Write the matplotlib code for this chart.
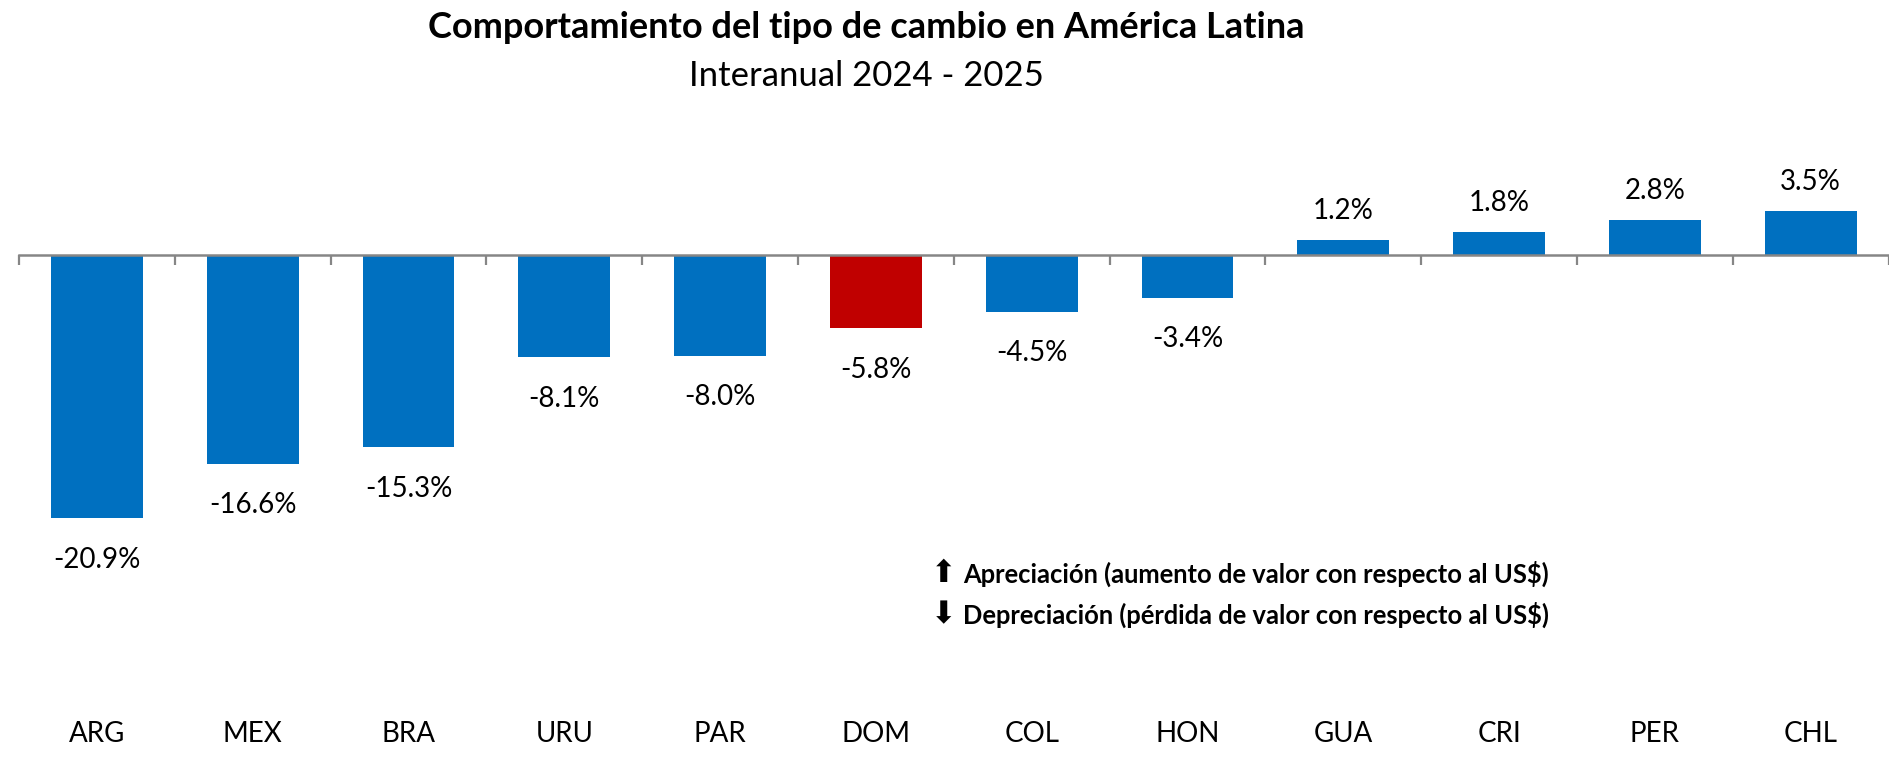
import matplotlib.pyplot as plt
import matplotlib.transforms as mtransforms
import numpy as np

# values (year-on-year change vs US$, %)
countries = ["ARG", "MEX", "BRA", "URU", "PAR", "DOM", "COL", "HON", "GUA", "CRI", "PER", "CHL"]
changes = [-20.9, -16.6, -15.3, -8.1, -8.0, -5.8, -4.5, -3.4, 1.2, 1.8, 2.8, 3.5]
highlight = "DOM"

BLUE = "#0070C0"
RED = "#C00000"
AXIS_GRAY = "#868686"

plt.rcParams["font.family"] = ["Lato", "DejaVu Sans"]

W, H = 1889, 782
fig = plt.figure(figsize=(W / 100, H / 100), dpi=100, facecolor="white")


def px(x, y):
    """Pixel position (from top-left) -> figure fraction."""
    return x / W, 1 - y / H


# plot area: zero line at y=255 px, ~12.6 px per percentage point
ymin, ymax = -27.0, 6.0
top_px, bot_px = 255 - ymax * 12.58, 255 - ymin * 12.58
left_px, right_px = 19, 19 + 12 * 155.8
ax = fig.add_axes([left_px / W, 1 - bot_px / H,
                   (right_px - left_px) / W, (bot_px - top_px) / H])

x = np.arange(len(countries))
colors = [RED if c == highlight else BLUE for c in countries]
ax.bar(x, changes, width=0.59, color=colors, zorder=2)

ax.set_xlim(-0.5, len(countries) - 0.5)
ax.set_ylim(ymin, ymax)
for side in ("top", "left", "right"):
    ax.spines[side].set_visible(False)
ax.spines["bottom"].set_position(("data", 0))
ax.spines["bottom"].set_color(AXIS_GRAY)
ax.spines["bottom"].set_linewidth(1.8)
ax.spines["bottom"].set_zorder(3)
ax.set_yticks([])
ax.set_xticks(np.arange(-0.5, len(countries), 1.0))
ax.set_xticklabels([])
ax.tick_params(axis="x", direction="out", length=7.5, width=1.6,
               color=AXIS_GRAY, pad=0)

for xi, v in zip(x, changes):
    off = 21 if v > 0 else -30
    ax.annotate(f"{v:.1f}%", (xi, v), xytext=(0, off),
                textcoords="offset points", ha="center", va="center",
                fontsize=20)

# category labels sit at the bottom of the chart, not on the zero line
cat_trans = mtransforms.blended_transform_factory(ax.transData, fig.transFigure)
for xi, c in zip(x, countries):
    ax.text(xi, px(0, 734)[1], c, transform=cat_trans,
            ha="center", va="center", fontsize=20)

fig.text(*px(866, 28), "Comportamiento del tipo de cambio en América Latina",
         ha="center", va="center", fontsize=26, fontweight="bold")
fig.text(*px(866, 76), "Interanual 2024 - 2025",
         ha="center", va="center", fontsize=25)

notes = [
    ("\u2b06", "Apreciación (aumento de valor con respecto al US$)", 574),
    ("\u2b07", "Depreciación (pérdida de valor con respecto al US$)", 615),
]
for arrow, label, y in notes:
    fig.text(*px(944, y), arrow, ha="center", va="center", fontsize=22,
             family=["DejaVu Sans"])
    fig.text(*px(963, y), label, ha="left", va="center", fontsize=18.4,
             fontweight="bold")

fig.savefig("out.png", dpi=100, facecolor="white")
